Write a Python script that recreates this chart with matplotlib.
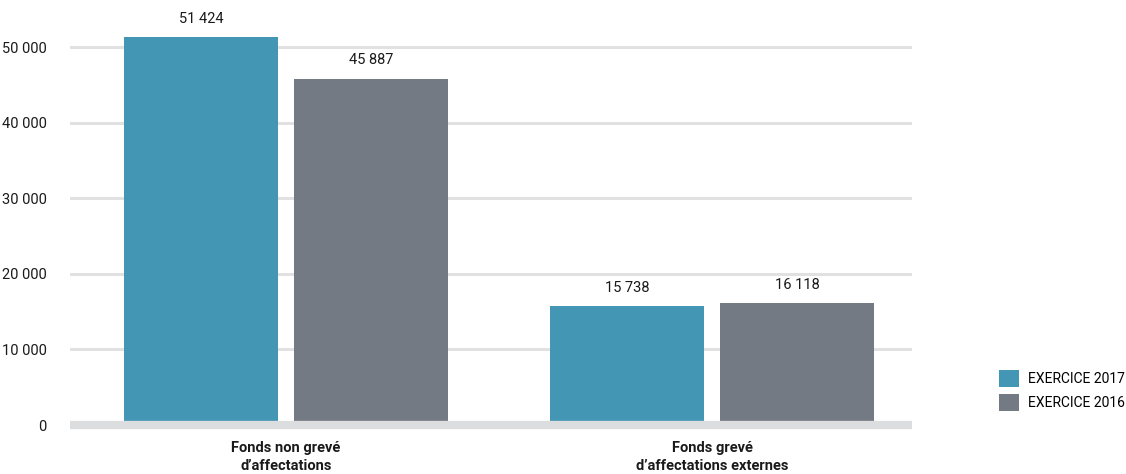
import matplotlib
matplotlib.use("Agg")
import matplotlib.pyplot as plt
from matplotlib.patches import Patch
import numpy as np

categories = ["Fonds non grevé\nd’affectations", "Fonds grevé\nd’affectations externes"]
series_names = ["EXERCICE 2017", "EXERCICE 2016"]
values_2017 = [51424, 15738]
values_2016 = [45887, 16118]
yticks = [0, 10000, 20000, 30000, 40000, 50000]
ytick_labels = ["0", "10 000", "20 000", "30 000", "40 000", "50 000"]

colors = ["#4396b4", "#747a83"]
plt.rcParams['font.family'] = ['Roboto', 'DejaVu Sans']

W, H = 1126, 474
fig = plt.figure(figsize=(W / 100, H / 100), dpi=100)
ax = fig.add_axes([70 / W, (H - 434) / H, (912 - 70) / W, (434 - 20) / H])

x = np.arange(len(categories))
bw = 0.3615
off = 0.1995
b1 = ax.bar(x - off, values_2017, bw, color=colors[0], zorder=2)
b2 = ax.bar(x + off, values_2016, bw, color=colors[1], zorder=2)

def fmt(v):
    return f"{v:,}".replace(",", " ")

for bars, vals in [(b1, values_2017), (b2, values_2016)]:
    for r, v in zip(bars, vals):
        ax.annotate(fmt(v), (r.get_x() + r.get_width() / 2, v), xytext=(0, 8),
                    textcoords="offset points", ha="center", va="bottom",
                    fontsize=10.5, color="#1a1a1a", annotation_clip=False)

for t in yticks[1:]:
    ax.axhline(t, color="#e1e1e1", lw=2.2, zorder=1)
ax.axhline(0, color="#dcddde", lw=6, zorder=3)

ax.set_xlim(-0.507, 1.469)
ax.set_ylim(-1192, 53642)
ax.set_yticks(yticks)
ax.set_yticklabels(ytick_labels, fontsize=10.5, color="#1a1a1a")
ax.set_xticks(x)
ax.set_xticklabels(categories, fontsize=10.5, fontweight="bold", color="#1a1a1a", linespacing=1.35)
ax.tick_params(axis="y", length=0, pad=17)
ax.tick_params(axis="x", length=0, pad=5)
for s in ax.spines.values():
    s.set_visible(False)

handles = [Patch(facecolor=c, edgecolor="none") for c in colors]
fig.legend(handles, series_names, loc="upper left", bbox_to_anchor=(993 / W, (H - 364) / H),
           frameon=False, fontsize=10, handlelength=1.5, handleheight=1.5,
           handletextpad=0.6, labelspacing=0.55, borderaxespad=0)

fig.savefig("out.png", dpi=100)
